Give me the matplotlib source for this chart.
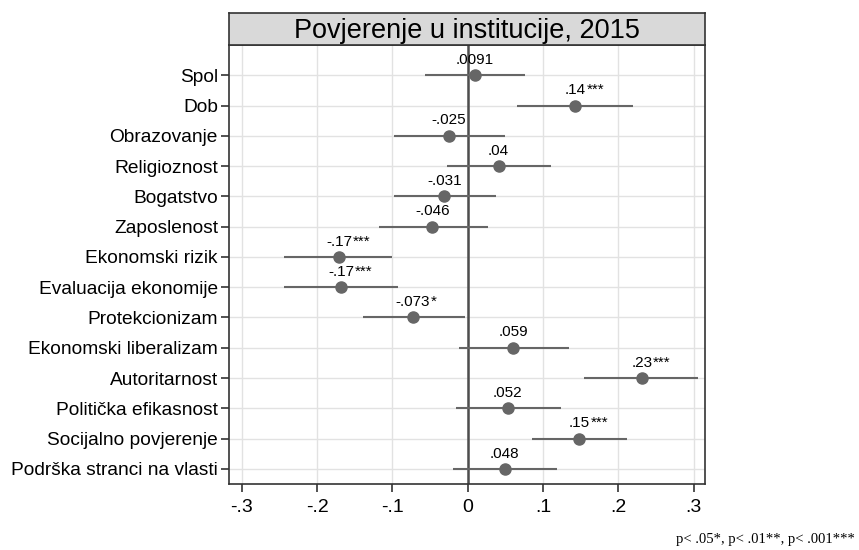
import matplotlib.pyplot as plt

plt.rcParams["font.family"] = ["Liberation Sans", "DejaVu Sans"]

# predictors, top to bottom
labels = [
    "Spol", "Dob", "Obrazovanje", "Religioznost", "Bogatstvo", "Zaposlenost",
    "Ekonomski rizik", "Evaluacija ekonomije", "Protekcionizam",
    "Ekonomski liberalizam", "Autoritarnost", "Politička efikasnost",
    "Socijalno povjerenje", "Podrška stranci na vlasti",
]
coefs = [0.0091, 0.143, -0.025, 0.041, -0.031, -0.047, -0.171, -0.168,
         -0.073, 0.060, 0.231, 0.053, 0.148, 0.049]
ci_low = [-0.057, 0.065, -0.098, -0.028, -0.098, -0.118, -0.244, -0.244,
          -0.139, -0.012, 0.155, -0.016, 0.085, -0.020]
ci_high = [0.076, 0.219, 0.050, 0.111, 0.038, 0.027, -0.101, -0.093,
           -0.003, 0.134, 0.306, 0.124, 0.212, 0.118]
value_text = [".0091", ".14", "-.025", ".04", "-.031", "-.046", "-.17", "-.17",
              "-.073", ".059", ".23", ".052", ".15", ".048"]
stars = ["", "***", "", "", "", "", "***", "***", "*", "", "***", "", "***", ""]

xticks = [-0.3, -0.2, -0.1, 0, 0.1, 0.2, 0.3]
xtick_labels = ["-.3", "-.2", "-.1", "0", ".1", ".2", ".3"]

mark_color = "#666666"

fig = plt.figure(figsize=(8.59, 5.50), dpi=100)
ax = fig.add_axes([229 / 859, 1 - 484 / 550, 476 / 859, 439 / 550])

rows = list(range(1, len(labels) + 1))
ax.hlines(rows, ci_low, ci_high, color=mark_color, linewidth=1.5, zorder=3)
ax.plot(coefs, rows, "o", color=mark_color, markersize=8, zorder=4)
ax.axvline(0, color="#4d4d4d", linewidth=1.8, zorder=2)

for x, y, txt, st in zip(coefs, rows, value_text, stars):
    t = ax.annotate(txt, (x, y), xytext=(0, 6), textcoords="offset points",
                    ha="center", va="bottom", fontsize=11, zorder=5)
    if st:
        ax.annotate(st, xy=(1, 0), xycoords=t, xytext=(0.5, 0),
                    textcoords="offset points", ha="left", va="bottom",
                    fontsize=11, zorder=5)

ax.set_xlim(-0.317, 0.315)
ax.set_ylim(14.5, 0)
ax.set_xticks(xticks)
ax.set_xticklabels(xtick_labels, fontsize=14)
ax.set_yticks(rows)
ax.set_yticklabels(labels, fontsize=13.8)
ax.tick_params(axis="both", direction="out", length=6, width=1.2, color="#333333")
ax.tick_params(axis="y", pad=2)
ax.tick_params(axis="x", pad=5)
ax.grid(True, color="#e2e2e2", linewidth=1, zorder=0)
ax.set_axisbelow(True)
for spine in ax.spines.values():
    spine.set_color("#333333")
    spine.set_linewidth(1.2)

# title strip
tax = fig.add_axes([229 / 859, 1 - 45 / 550, 476 / 859, 32 / 550])
tax.set_facecolor("#d9d9d9")
tax.set_xticks([])
tax.set_yticks([])
for spine in tax.spines.values():
    spine.set_color("#333333")
    spine.set_linewidth(1.2)
tax.text(0.5, 0.45, "Povjerenje u institucije, 2015", ha="center", va="center",
         fontsize=19.5, transform=tax.transAxes)

fig.text(855 / 859, 1 - 543 / 550, "p< .05*, p< .01**, p< .001***",
         ha="right", va="baseline", fontsize=10.5, family="Liberation Serif")

fig.savefig("out.png", dpi=100, facecolor="white")
